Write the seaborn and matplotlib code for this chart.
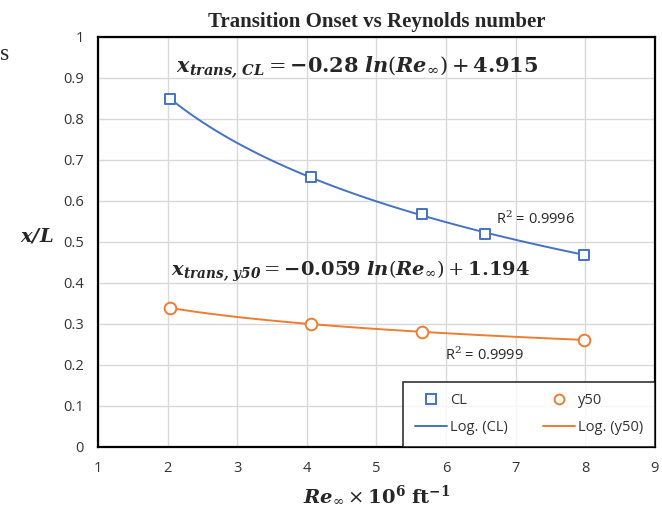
import matplotlib
matplotlib.use("Agg")
import matplotlib.pyplot as plt
from matplotlib.lines import Line2D
import numpy as np
import pandas as pd
import seaborn as sns

# ---- data ----
re_cl = [2.03, 4.06, 5.65, 6.56, 7.98]
xl_cl = [0.849, 0.659, 0.568, 0.520, 0.468]
re_y50 = [2.03, 4.06, 5.65, 7.98]
xl_y50 = [0.339, 0.300, 0.280, 0.261]
x_ticks = [1, 2, 3, 4, 5, 6, 7, 8, 9]
y_ticks = [0, 0.1, 0.2, 0.3, 0.4, 0.5, 0.6, 0.7, 0.8, 0.9, 1]
y_tick_labels = ["0", "0.1", "0.2", "0.3", "0.4", "0.5", "0.6", "0.7", "0.8", "0.9", "1"]

BLUE = "#4472C4"
ORANGE = "#ED7D31"

sns.set_theme(style="white")
plt.rcParams["font.family"] = ["Open Sans", "DejaVu Sans"]
plt.rcParams["mathtext.fontset"] = "dejavuserif"

df_cl = pd.DataFrame({"Re": re_cl, "xL": xl_cl})
df_y50 = pd.DataFrame({"Re": re_y50, "xL": xl_y50})

fig = plt.figure(figsize=(6.62, 5.13), dpi=100)
ax = fig.add_axes([0.148, 0.129, 0.841, 0.799])

# trendlines (logarithmic fits)
sns.regplot(data=df_cl, x="Re", y="xL", logx=True, ci=None, scatter=False,
            color=BLUE, line_kws={"lw": 1.4}, ax=ax)
sns.regplot(data=df_y50, x="Re", y="xL", logx=True, ci=None, scatter=False,
            color=ORANGE, line_kws={"lw": 1.4}, ax=ax)

# markers
sns.scatterplot(data=df_cl, x="Re", y="xL", marker="s", s=60, facecolor="white",
                edgecolor=BLUE, linewidth=1.4, ax=ax, zorder=5)
sns.scatterplot(data=df_y50, x="Re", y="xL", marker="o", s=70, facecolor="white",
                edgecolor=ORANGE, linewidth=1.4, ax=ax, zorder=5)

ax.set_xlim(1, 9)
ax.set_ylim(0, 1)
ax.set_xticks(x_ticks)
ax.set_xticklabels([str(v) for v in x_ticks])
ax.set_yticks(y_ticks)
ax.set_yticklabels(y_tick_labels)
ax.tick_params(axis="both", labelsize=10.5, length=0, pad=10, colors="#333333")
ax.grid(True, color="#d9d9d9", lw=1)
ax.set_axisbelow(True)
for sp in ax.spines.values():
    sp.set_color("black")
    sp.set_linewidth(1.6)

ax.set_xlabel(r"$\mathbfit{Re}_{\infty} \times \mathbf{10^6\ ft^{-1}}$", fontsize=14, labelpad=6)
ax.set_ylabel(r"$\mathbfit{x/L}$", fontsize=14, rotation=0, labelpad=22)
ax.yaxis.set_label_coords(-0.11, 0.49)

ax.set_title("Transition Onset vs Reynolds number", fontsize=15, fontweight="bold",
             family="Liberation Serif", pad=7)

# equations
ax.text(2.12, 0.925,
        r"$\mathbfit{x}_{\mathbfit{trans,\,CL}} = \mathbf{-0.28}\ \mathbfit{ln}(\mathbfit{Re}_{\infty}) + \mathbf{4.915}$",
        fontsize=15, va="center", ha="left")
ax.text(2.05, 0.427,
        r"$\mathbfit{x}_{\mathbfit{trans,\,y50}} = \mathbf{-0.059}\ \mathbfit{ln}(\mathbfit{Re}_{\infty}) + \mathbf{1.194}$",
        fontsize=14, va="center", ha="left")

ax.text(6.72, 0.555, r"R$^2$ = 0.9996", fontsize=10.5, va="center", ha="left")
ax.text(5.98, 0.222, r"R$^2$ = 0.9999", fontsize=10.5, va="center", ha="left")

handles = [
    Line2D([], [], marker="s", ls="none", mfc="white", mec=BLUE, mew=1.4, ms=7),
    Line2D([], [], color=BLUE, lw=1.4),
    Line2D([], [], marker="o", ls="none", mfc="white", mec=ORANGE, mew=1.4, ms=7),
    Line2D([], [], color=ORANGE, lw=1.4),
]
labels = ["CL", "Log. (CL)", "y50", "Log. (y50)"]
leg = ax.legend(handles, labels, ncol=2, loc="lower right", bbox_to_anchor=(1.0, 0.0),
                borderaxespad=0, fontsize=10.5, frameon=True, fancybox=False,
                handlelength=2.2, columnspacing=2.4, labelspacing=0.8,
                borderpad=0.8, handletextpad=0.2)
leg.get_frame().set_edgecolor("black")
leg.get_frame().set_linewidth(1.2)
for t in leg.get_texts():
    t.set_color("#333333")

fig.text(0.0, 0.893, "s", fontsize=17, family="Liberation Serif", ha="left", va="center")

fig.savefig("out.png", dpi=100)
